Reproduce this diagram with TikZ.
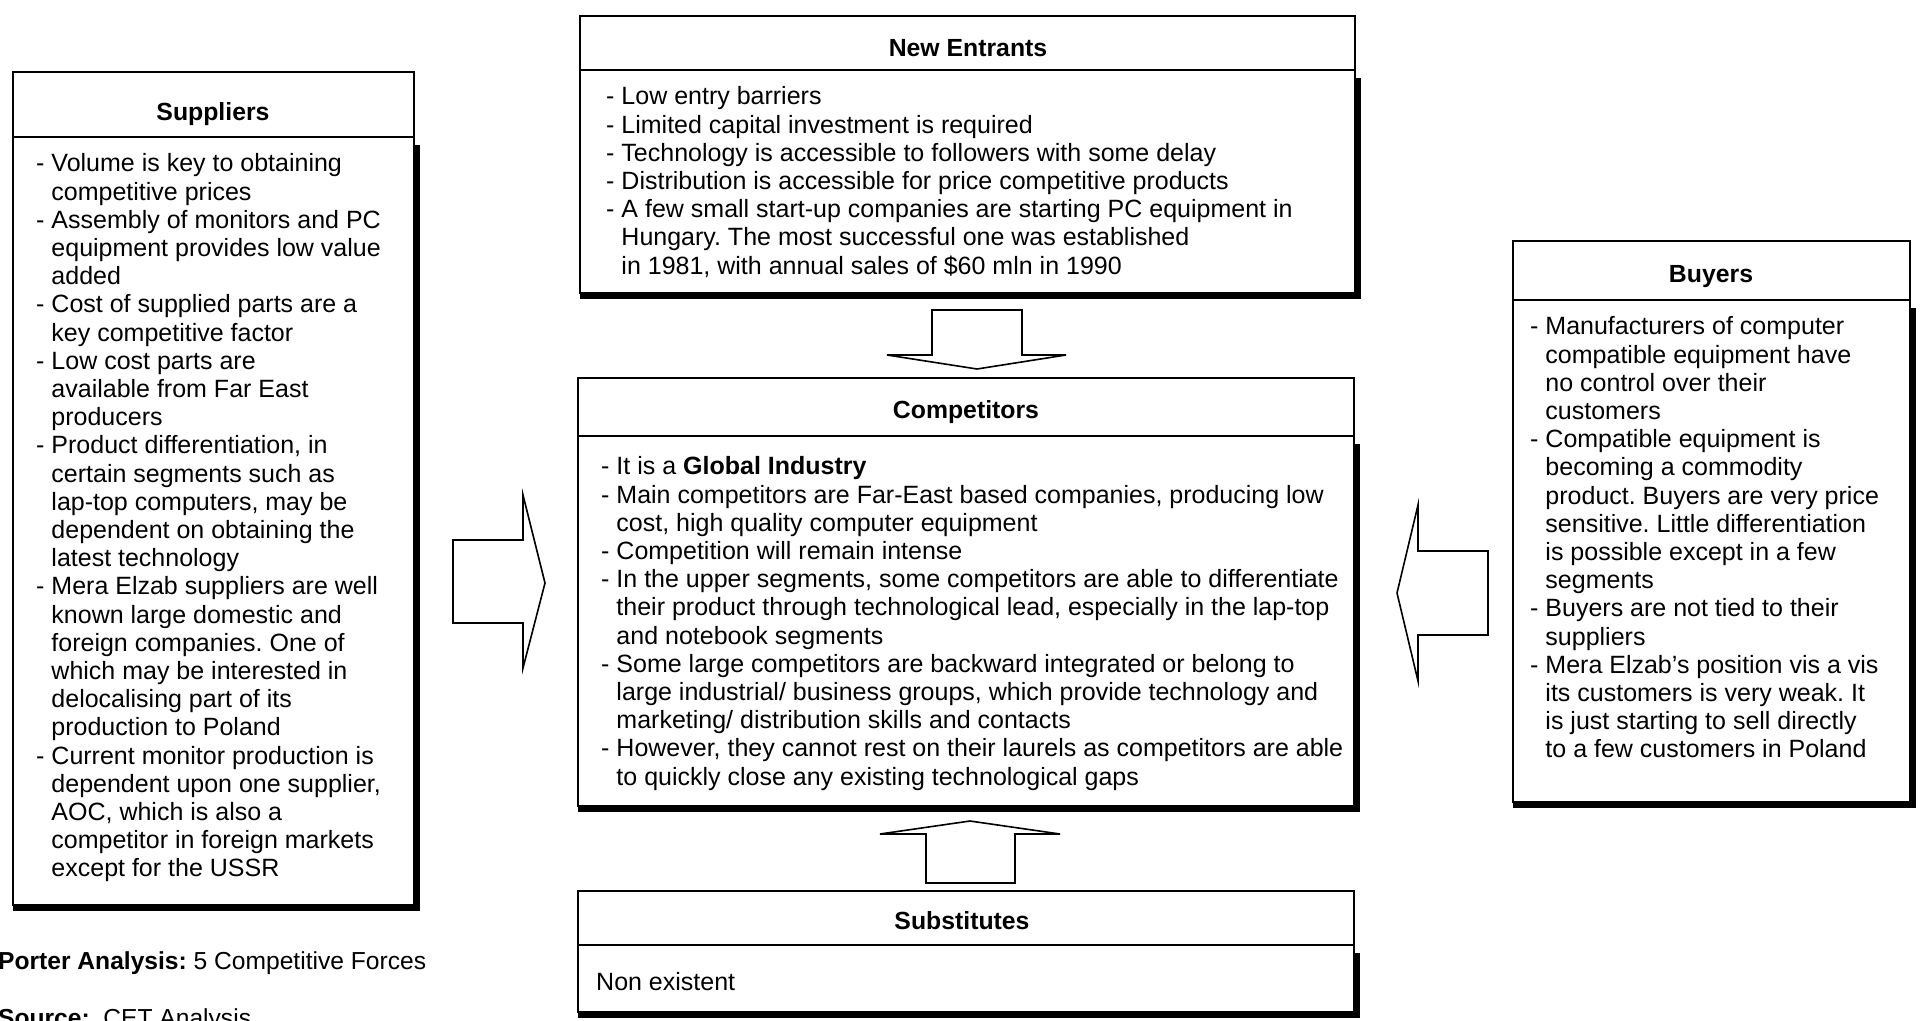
\documentclass[tikz,border=0pt]{standalone}
\usepackage{fontspec}
\setmainfont{Liberation Sans}
\frenchspacing
\newcommand\hg{\hphantom{- }}
\tikzset{
  boxline/.style={draw=black, line width=1.5pt},
  forcebox/.style={boxline, fill=white, rectangle, inner sep=0pt, outer sep=0pt, anchor=north west},
  shadowbar/.style={fill=black},
  ttl/.style={font=\fontsize{24.8}{28}\selectfont\bfseries, anchor=base, inner sep=0pt},
  body/.style={font=\fontsize{25}{28.2}\selectfont, anchor=north west, inner sep=0pt, align=left},
  blockarrow/.style={draw=black, line width=1.6pt, fill=white, line join=miter},
  foot/.style={font=\fontsize{24.6}{28}\selectfont, anchor=base west, inner sep=0pt},
}
\begin{document}
\begin{tikzpicture}[x=1pt,y=-1pt]
\useasboundingbox (0,0) rectangle (1927,1020);
\clip (0,0) rectangle (1927,1020);

% ---------- Suppliers ----------
\fill[shadowbar] (13,905) rectangle (420,911);
\fill[shadowbar] (414,145) rectangle (420,911);
\node[forcebox, minimum width=401pt, minimum height=833pt] (sup) at (13,72) {};
\draw[boxline] (13,137) -- (414,137);
\node[ttl] (supT) at (213,120) {Suppliers};
\node[body] (supB) at (36,152) {\strut- Volume is key to obtaining\\
\hg competitive prices\\
- Assembly of monitors and PC\\
\hg equipment provides low value\\
\hg added\\
- Cost of supplied parts are a\\
\hg key competitive factor\\
- Low cost parts are\\
\hg available from Far East\\
\hg producers\\
- Product differentiation, in\\
\hg certain segments such as\\
\hg lap-top computers, may be\\
\hg dependent on obtaining the\\
\hg latest technology\\
- Mera Elzab suppliers are well\\
\hg known large domestic and\\
\hg foreign companies. One of\\
\hg which may be interested in\\
\hg delocalising part of its\\
\hg production to Poland\\
- Current monitor production is\\
\hg dependent upon one supplier,\\
\hg AOC, which is also a\\
\hg competitor in foreign markets\\
\hg except for the USSR};

% ---------- New Entrants ----------
\fill[shadowbar] (580,293) rectangle (1361,299);
\fill[shadowbar] (1355,78) rectangle (1361,299);
\node[forcebox, minimum width=775pt, minimum height=277pt] (ne) at (580,16) {};
\draw[boxline] (580,70) -- (1355,70);
\node[ttl] (neT) at (968,56) {New Entrants};
\node[body] (neB) at (606,85) {\strut- Low entry barriers\\
- Limited capital investment is required\\
- Technology is accessible to followers with some delay\\
- Distribution is accessible for price competitive products\\
- A few small start-up companies are starting PC equipment in\\
\hg Hungary. The most successful one was established\\
\hg in 1981, with annual sales of \$60 mln in 1990};

% ---------- Competitors ----------
\fill[shadowbar] (578,806) rectangle (1360,812);
\fill[shadowbar] (1354,444) rectangle (1360,812);
\node[forcebox, minimum width=776pt, minimum height=428pt] (comp) at (578,378) {};
\draw[boxline] (578,436) -- (1354,436);
\node[ttl] (compT) at (966,418) {Competitors};
\node[body] (compB) at (601,455) {\strut- It is a \textbf{Global Industry}\\
- Main competitors are Far-East based companies, producing low\\
\hg cost, high quality computer equipment\\
- Competition will remain intense\\
- In the upper segments, some competitors are able to differentiate\\
\hg their product through technological lead, especially in the lap-top\\
\hg and notebook segments\\
- Some large competitors are backward integrated or belong to\\
\hg large industrial/ business groups, which provide technology and\\
\hg marketing/ distribution skills and contacts\\
- However, they cannot rest on their laurels as competitors are able\\
\hg to quickly close any existing technological gaps};

% ---------- Substitutes ----------
\fill[shadowbar] (578,1012) rectangle (1360,1018);
\fill[shadowbar] (1354,953) rectangle (1360,1018);
\node[forcebox, minimum width=776pt, minimum height=121pt] (subs) at (578,891) {};
\draw[boxline] (578,945) -- (1354,945);
\node[ttl] (subsT) at (962,929) {Substitutes};
\node[body] (subsB) at (596,971) {\strut Non existent};

% ---------- Buyers ----------
\fill[shadowbar] (1513,802) rectangle (1916,808);
\fill[shadowbar] (1910,308) rectangle (1916,808);
\node[forcebox, minimum width=397pt, minimum height=561pt] (buy) at (1513,241) {};
\draw[boxline] (1513,300) -- (1910,300);
\node[ttl] (buyT) at (1711,282) {Buyers};
\node[body] (buyB) at (1530,315) {\strut- Manufacturers of computer\\
\hg compatible equipment have\\
\hg no control over their\\
\hg customers\\
- Compatible equipment is\\
\hg becoming a commodity\\
\hg product. Buyers are very price\\
\hg sensitive. Little differentiation\\
\hg is possible except in a few\\
\hg segments\\
- Buyers are not tied to their\\
\hg suppliers\\
- Mera Elzab's position vis a vis\\
\hg its customers is very weak. It\\
\hg is just starting to sell directly\\
\hg to a few customers in Poland};

% ---------- block arrows ----------
\draw[blockarrow] (453,540) -- (523,540) -- (523,495) -- (545,583) -- (523,668) -- (523,623) -- (453,623) -- cycle;
\draw[blockarrow] (1488,551) -- (1418,551) -- (1418,505) -- (1397,593) -- (1418,681) -- (1418,635) -- (1488,635) -- cycle;
\draw[blockarrow] (932,310) -- (1022,310) -- (1022,355) -- (1066,355) -- (977,369) -- (887,355) -- (932,355) -- cycle;
\draw[blockarrow] (926,883) -- (1015,883) -- (1015,834) -- (1060,834) -- (970,821) -- (880,834) -- (926,834) -- cycle;

% ---------- footer ----------
\node[foot] (porter) at (-2,969) {\textbf{Porter Analysis:} 5 Competitive Forces};
\node[foot] (source) at (-2,1026) {\textbf{Source:}\ \ CET Analysis};
\end{tikzpicture}
\end{document}
